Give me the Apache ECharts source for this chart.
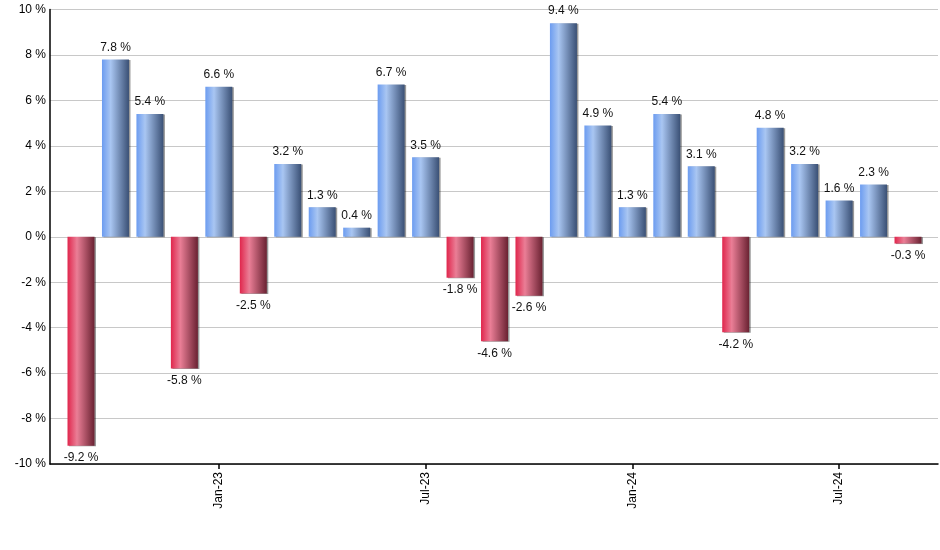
<!DOCTYPE html>
<html>
<head>
<meta charset="utf-8">
<script src="https://cdn.jsdelivr.net/npm/echarts@6/dist/echarts.min.js"></script>
<style>
  html, body { margin: 0; padding: 0; background: #fff; }
  #chart { width: 940px; height: 550px; }
</style>
</head>
<body>
<div id="chart"></div>
<script>
  const months = ['Sep-22', 'Oct-22', 'Nov-22', 'Dec-22', 'Jan-23', 'Feb-23', 'Mar-23', 'Apr-23', 'May-23',
    'Jun-23', 'Jul-23', 'Aug-23', 'Sep-23', 'Oct-23', 'Nov-23', 'Dec-23', 'Jan-24', 'Feb-24', 'Mar-24',
    'Apr-24', 'May-24', 'Jun-24', 'Jul-24', 'Aug-24', 'Sep-24']
  const returns = [-9.2, 7.8, 5.4, -5.8, 6.6, -2.5, 3.2, 1.3, 0.4, 6.7, 3.5, -1.8, -4.6, -2.6, 9.4, 4.9,
    1.3, 5.4, 3.1, -4.2, 4.8, 3.2, 1.6, 2.3, -0.3]
  const labelMonths = ['Jan-23', 'Jul-23', 'Jan-24', 'Jul-24']
  const yTicks = [-10, -8, -6, -4, -2, 0, 2, 4, 6, 8, 10]

  const font = '"Liberation Sans", Arial, sans-serif'
  const upColor = new echarts.graphic.LinearGradient(0, 0, 1, 0, [
    { offset: 0, color: '#6c9cf0' },
    { offset: 0.32, color: '#a9c6f2' },
    { offset: 1, color: '#3a5075' }
  ])
  const downColor = new echarts.graphic.LinearGradient(0, 0, 1, 0, [
    { offset: 0, color: '#e0264c' },
    { offset: 0.35, color: '#ea7e96' },
    { offset: 1, color: '#6a2232' }
  ])

  const chart = echarts.init(document.getElementById('chart'))
  chart.setOption({
    animation: false,
    grid: { left: 50, right: 2, top: 9.5, bottom: 86 },
    xAxis: {
      type: 'value',
      min: -0.9,
      max: months.length - 1 + 0.87,
      splitLine: { show: false },
      axisLine: { onZero: false, lineStyle: { color: '#000', width: 1.5 } },
      axisTick: {
        customValues: labelMonths.map(m => months.indexOf(m)),
        length: 5,
        lineStyle: { color: '#000', width: 1.5 }
      },
      axisLabel: {
        customValues: labelMonths.map(m => months.indexOf(m)),
        rotate: 90,
        margin: 8,
        color: '#000',
        fontSize: 12,
        fontFamily: font,
        formatter: v => months[Math.round(v)]
      }
    },
    yAxis: {
      type: 'value',
      min: yTicks[0],
      max: yTicks[yTicks.length - 1],
      interval: 2,
      axisLine: { show: true, onZero: false, lineStyle: { color: '#000', width: 1.5 } },
      axisTick: { show: false },
      splitLine: { lineStyle: { color: '#c8c8c8', width: 1 } },
      axisLabel: {
        margin: 4,
        color: '#000',
        fontSize: 12,
        fontFamily: font,
        formatter: v => v + ' %'
      }
    },
    series: [{
      type: 'bar',
      barWidth: 27,
      data: returns.map((v, i) => ({
        value: [i, v],
        itemStyle: { color: v >= 0 ? upColor : downColor },
        label: { position: v >= 0 ? 'top' : 'bottom' }
      })),
      itemStyle: {
        shadowColor: 'rgba(0,0,0,0.4)',
        shadowOffsetX: 1.5,
        shadowOffsetY: 0.5,
        shadowBlur: 0
      },
      label: {
        show: true,
        distance: 6,
        color: '#111',
        fontSize: 12,
        fontFamily: font,
        formatter: p => p.value[1].toFixed(1) + ' %'
      }
    }]
  })
</script>
</body>
</html>
